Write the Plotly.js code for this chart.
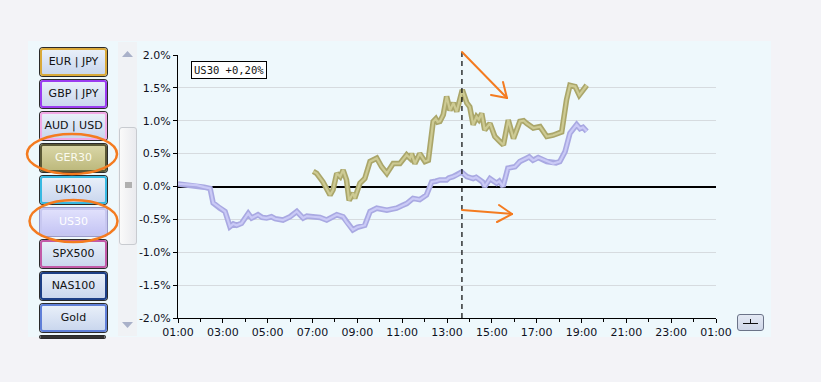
<!DOCTYPE html>
<html>
<head>
<meta charset="utf-8">
<script src="https://cdn.plot.ly/plotly-3.0.1.min.js"></script>
<style>
  html, body { margin:0; padding:0; width:821px; height:382px; overflow:hidden; background:#f3f3f7; font-family:"DejaVu Sans", sans-serif; }
  #panel { position:absolute; left:28px; top:41px; width:743px; height:296px; background:#eef8fc; }
  #chart { position:absolute; left:0; top:0; width:821px; height:382px; }
  .btn { position:absolute; left:40px; width:63px; height:24px; border-radius:3px; box-shadow:0 0 0 1px #2a2a2a;
         background:linear-gradient(#e8eff9,#cad7ee); font-size:11px; line-height:24px; text-align:center; color:#111; z-index:5; }
  #scroll { position:absolute; left:118px; top:42px; width:19px; height:294px; background:#f0f2f5; z-index:5; }
  #thumb { position:absolute; left:1px; top:85px; width:16px; height:116px; border:1px solid #c8cbd0; border-radius:3px; background:linear-gradient(90deg,#fafafa,#e9eaee); }
  #thumb div { position:absolute; left:5px; top:54px; width:7px; height:6px; background:#b0b0b0; }
  #reset { position:absolute; left:737px; top:314px; width:25px; height:15px; border:1px solid #6b7388; border-radius:3px; background:linear-gradient(#e4e9f4,#cfd7e8); z-index:5; }
  #overlay { position:absolute; left:0; top:0; z-index:10; pointer-events:none; }
</style>
</head>
<body>
<div id="panel"></div>
<div id="chart"></div>
<div id="buttons"></div>
<div id="scroll">
  <svg width="19" height="294" style="position:absolute;left:0;top:0">
    <polygon points="4,15 15,15 9.5,9" fill="#a9b1c9"/>
    <polygon points="4,280 15,280 9.5,286" fill="#a9b1c9"/>
  </svg>
  <div id="thumb"><div></div></div>
</div>
<div id="reset">
  <svg width="25" height="15" style="position:absolute;left:0;top:0">
    <line x1="5" y1="8.5" x2="20" y2="8.5" stroke="#111" stroke-width="1"/>
    <line x1="12.5" y1="4" x2="12.5" y2="8.5" stroke="#111" stroke-width="1"/>
  </svg>
</div>
<svg id="overlay" width="821" height="382">
  <g fill="none" stroke="#f47b20" stroke-width="2.5">
    <ellipse cx="72" cy="154" rx="45" ry="20"/>
    <ellipse cx="73.5" cy="221" rx="44" ry="21"/>
  </g>
  <g fill="none" stroke="#f47b20" stroke-width="2" stroke-linecap="round">
    <line x1="462" y1="52" x2="507" y2="98"/>
    <line x1="503" y1="82" x2="507" y2="98"/>
    <line x1="491" y1="95" x2="507" y2="98"/>
    <line x1="462" y1="210" x2="512" y2="214"/>
    <line x1="499" y1="205" x2="512" y2="214"/>
    <line x1="497" y1="222" x2="512" y2="214"/>
  </g>
</svg>
<script>
// ---- data ----
const day = "2024-01-01 ";
const buttonLabels = ["EUR | JPY","GBP | JPY","AUD | USD","GER30","UK100","US30","SPX500","NAS100","Gold"];
const buttonBorders = ["#d9a93a","#9b3cf0","#f2a8e6","#5a5836","#38b9e2","#c7c7f0","#c25aa8","#1d3f86","#5f7fd8"];

const us30Times = ["01:00","01:20","01:50","02:10","02:26","02:34","02:52","03:06","03:19","03:28","03:37","03:50","04:08","04:17","04:34","04:45","04:57","05:10","05:20","05:30","05:41","06:00","06:18","06:35","06:45","07:01","07:20","07:38","07:50","08:05","08:22","08:31","08:48","09:00","09:20","09:34","09:52","10:19","10:45","11:00","11:12","11:29","11:47","12:05","12:19","12:30","12:41","12:59","13:05","13:16","13:25","13:39","13:53","14:10","14:18","14:28","14:35","14:41","14:55","15:13","15:20","15:30","15:43","16:02","16:15","16:33","16:40","16:50","16:56","17:04","17:27","17:35","17:44","17:52","18:02","18:16","18:29","18:47","18:56","19:04","19:14"];
const us30Values = [0.04,0.03,0.02,-0.01,-0.03,-0.25,-0.33,-0.38,-0.61,-0.57,-0.59,-0.56,-0.41,-0.48,-0.43,-0.47,-0.48,-0.46,-0.49,-0.50,-0.51,-0.46,-0.38,-0.48,-0.45,-0.46,-0.47,-0.51,-0.47,-0.43,-0.46,-0.54,-0.66,-0.62,-0.59,-0.38,-0.33,-0.36,-0.33,-0.29,-0.26,-0.18,-0.20,-0.13,0.07,0.08,0.10,0.10,0.13,0.15,0.17,0.22,0.15,0.12,0.14,0.10,0.07,0.00,0.12,0.05,0.08,0.00,0.28,0.30,0.38,0.43,0.45,0.40,0.41,0.44,0.38,0.37,0.35,0.36,0.38,0.53,0.81,0.94,0.88,0.90,0.84];

const ger30Times = ["07:02","07:11","07:28","07:47","07:55","08:05","08:14","08:22","08:31","08:38","08:49","08:53","09:07","09:20","09:34","09:52","10:05","10:19","10:36","10:54","11:12","11:21","11:25","11:34","11:47","12:01","12:10","12:23","12:30","12:35","12:41","12:50","12:59","13:08","13:17","13:26","13:41","13:53","14:01","14:10","14:19","14:25","14:33","14:41","14:55","15:08","15:22","15:31","15:44","15:58","16:15","16:25","16:33","16:40","16:51","17:09","17:15","17:27","17:44","17:55","18:07","18:20","18:29","18:43","18:54","19:14"];
const ger30Values = [0.23,0.20,0.07,-0.13,-0.05,0.20,0.15,0.25,0.10,-0.21,-0.10,-0.18,0.05,0.12,0.38,0.43,0.30,0.20,0.35,0.35,0.48,0.43,0.50,0.35,0.50,0.38,0.40,0.99,1.03,0.98,0.99,1.09,1.37,1.16,1.27,1.14,1.47,1.27,1.21,0.94,1.06,1.02,1.11,0.86,0.96,0.76,0.68,0.63,1.01,0.73,0.99,1.00,0.96,0.93,0.89,0.91,0.86,0.76,0.78,0.80,0.83,1.32,1.54,1.52,1.39,1.54];

const yTickVals = [-2,-1.5,-1,-0.5,0,0.5,1,1.5,2];
const markerTime = "13:40";
const infoLabel = "US30 +0,20%";

// ---- buttons ----
const bc = document.getElementById("buttons");
buttonLabels.forEach((lab,i)=>{
  const d = document.createElement("div");
  d.className = "btn";
  d.textContent = lab;
  d.style.top = (48 + i*32) + "px";
  d.style.border = "2px solid " + buttonBorders[i];
  if (lab === "GER30") { d.style.background = "linear-gradient(#d9d6a6,#bdb97d)"; d.style.color = "#fbfbf0"; }
  if (lab === "US30") { d.style.background = "linear-gradient(#e0e0fc,#c5c5f4)"; d.style.color = "#ffffff"; d.style.boxShadow = "0 0 0 1px #9a9ac8"; }
  bc.appendChild(d);
});
const extra = document.createElement("div");
extra.className = "btn"; extra.style.top = (48 + 9*32) + "px"; extra.style.height="0px"; extra.style.border="1px solid #333";
bc.appendChild(extra);

// ---- chart ----
const ux = us30Times.map(t=>day+t), gx = ger30Times.map(t=>day+t);
const traces = [
  {x:gx, y:ger30Values, type:"scatter", mode:"lines", line:{color:"#aaa66a", width:5.5}, hoverinfo:"skip", showlegend:false},
  {x:gx, y:ger30Values, type:"scatter", mode:"lines", line:{color:"#cdca93", width:2.2}, name:"GER30", showlegend:false},
  {x:ux, y:us30Values, type:"scatter", mode:"lines", line:{color:"#a9a9e2", width:5.5}, hoverinfo:"skip", showlegend:false},
  {x:ux, y:us30Values, type:"scatter", mode:"lines", line:{color:"#cacaf6", width:2.2}, name:"US30", showlegend:false}
];
const tickFont = {family:"DejaVu Sans, sans-serif", size:11, color:"#10101c"};
const layout = {
  width:821, height:382,
  margin:{l:178, r:105, t:55, b:64},
  paper_bgcolor:"rgba(0,0,0,0)",
  plot_bgcolor:"#eef8fc",
  showlegend:false,
  xaxis:{
    type:"date",
    range:[day+"01:00","2024-01-02 01:00"],
    tick0:day+"01:00", dtick:7200000, tickformat:"%H:%M",
    ticks:"outside", ticklen:4, tickcolor:"#000", tickwidth:1,
    minor:{dtick:3600000, ticks:"outside", ticklen:3, tickcolor:"#000", showgrid:false},
    showgrid:false, showline:true, linecolor:"#000", linewidth:1, mirror:false,
    tickfont:tickFont, zeroline:false, fixedrange:true
  },
  yaxis:{
    range:[-2,2], tickvals:yTickVals, ticktext:yTickVals.map(v=>v.toFixed(1)+"%"),
    ticks:"outside", ticklen:4, tickcolor:"#000",
    showgrid:true, gridcolor:"#d6dbdf", gridwidth:1,
    zeroline:true, zerolinecolor:"#000", zerolinewidth:2,
    showline:true, linecolor:"#000", linewidth:1,
    tickfont:tickFont, fixedrange:true
  },
  shapes:[
    {type:"line", xref:"x", yref:"paper", x0:day+markerTime, x1:day+markerTime, y0:0, y1:1.013, line:{color:"#000", width:1.2, dash:"5px,4px"}}
  ],
  annotations:[
    {xref:"paper", yref:"paper", x:0.024, y:0.978, xanchor:"left", yanchor:"top", showarrow:false,
     text:infoLabel, font:{family:"DejaVu Sans Mono, monospace", size:10.5, color:"#111"},
     bgcolor:"#ffffff", bordercolor:"#000", borderwidth:1, borderpad:2}
  ]
};
Plotly.newPlot("chart", traces, layout, {displayModeBar:false, staticPlot:true});
</script>
</body>
</html>
